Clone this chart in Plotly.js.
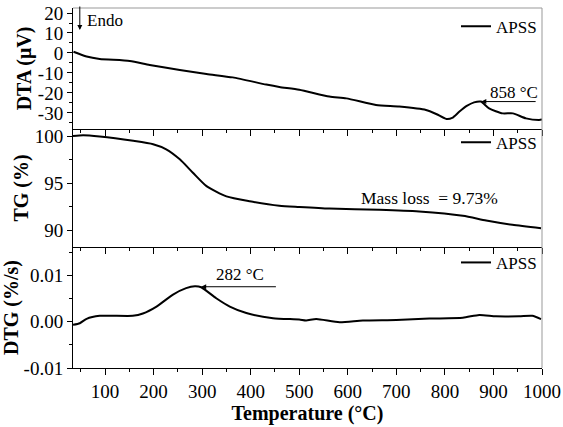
<!DOCTYPE html>
<html><head><meta charset="utf-8">
<script src="https://cdn.plot.ly/plotly-3.0.1.min.js"></script>
<style>body{margin:0;padding:0;background:#fff}#c{width:563px;height:427px}</style>
</head><body><div id="c"></div>
<script>
// DTA (µV) vs temperature
const dtaT = [35, 62, 89, 151, 192, 254, 309, 363, 432, 459, 500, 562, 597, 658, 706, 761, 782, 803, 815, 830, 845, 860, 874, 891, 919, 940, 967, 994, 1000];
const dtaV = [0.6, -1.8, -3, -4, -6, -8.5, -10.5, -12.2, -15.8, -17, -18.4, -21.8, -22.7, -26, -26.8, -28.5, -30.5, -33, -32.5, -29.3, -26.5, -24.7, -24.3, -27.7, -30.2, -30.2, -32.7, -33.5, -33.3];
// TG (%) vs temperature
const tgT = [34, 55, 89, 158, 199, 226, 254, 281, 309, 350, 398, 459, 500, 562, 665, 747, 837, 885, 939, 998];
const tgV = [100.06, 100.14, 100, 99.53, 99.17, 98.63, 97.56, 96.13, 94.7, 93.6, 93.08, 92.6, 92.47, 92.3, 92.18, 92.0, 91.54, 91.03, 90.57, 90.2];
// DTG (%/s) vs temperature
const dtgT = [34, 48, 62, 89, 157, 178, 206, 240, 267, 285, 298, 329, 357, 391, 446, 500, 514, 535, 583, 631, 700, 768, 837, 871, 905, 953, 980, 998];
const dtgV = [-0.00065, -0.0003, 0.00065, 0.0013, 0.0013, 0.0018, 0.0033, 0.0059, 0.0073, 0.0077, 0.0075, 0.0051, 0.0033, 0.0019, 0.0008, 0.0005, 0.0003, 0.0006, -0.0001, 0.0003, 0.0004, 0.0007, 0.0009, 0.0015, 0.0012, 0.0012, 0.0013, 0.0006];
const seriesName = "APSS";
const dtaTicks = [20, 10, 0, -10, -20, -30];
const dtaTickText = ["20", "10", "0", "-10", "-20", "-30"];
const tgTicks = [90, 95, 100];
const tgTickText = ["90", "95", "100"];
const dtgTicks = [-0.01, 0, 0.01];
const dtgTickText = ["-0.01", "0.00", "0.01"];

const F = "Liberation Serif";
const line = {color: "#000", width: 2, shape: "spline", smoothing: 0.6};
const traces = [
  {x: dtaT, y: dtaV, xaxis: "x", yaxis: "y", mode: "lines", line: line, name: seriesName, legend: "legend"},
  {x: tgT, y: tgV, xaxis: "x2", yaxis: "y2", mode: "lines", line: line, name: seriesName, legend: "legend2"},
  {x: dtgT, y: dtgV, xaxis: "x3", yaxis: "y3", mode: "lines", line: line, name: seriesName, legend: "legend3"}
];
const xr = [34, 1000];
function xax(anchor, labels) {
  return {anchor: anchor, range: xr, tick0: 0, dtick: 100, ticks: "outside", ticklen: 6, tickcolor: "#000",
    showline: true, linecolor: "#000", linewidth: 1, showgrid: false, zeroline: false, showticklabels: labels,
    tickfont: {family: F, size: 19, color: "#000"},
    minor: {dtick: 50, tick0: 0, ticks: "outside", ticklen: 3, tickcolor: "#000"}};
}
function yax(domain, range, tv, tt, minorD, title) {
  return {domain: domain, range: range, tickvals: tv, ticktext: tt, ticks: "outside", ticklen: 5, tickcolor: "#000",
    showline: true, linecolor: "#000", linewidth: 1, showgrid: false, zeroline: false,
    tickfont: {family: F, size: 19, color: "#000"},
    minor: {dtick: minorD, ticks: "outside", ticklen: 3, tickcolor: "#000"},
    title: {text: title, font: {family: F, size: 20, color: "#000", weight: "bold"}, standoff: 0}};
}
const legendBase = {x: 1, xanchor: "right", yanchor: "top", bgcolor: "rgba(0,0,0,0)", borderwidth: 0,
  font: {family: F, size: 17, color: "#000"}, itemwidth: 30, tracegroupgap: 0};
const layout = {
  width: 563, height: 427, margin: {l: 73, r: 21, t: 8, b: 59},
  paper_bgcolor: "#fff", plot_bgcolor: "#fff", showlegend: true,
  font: {family: F, color: "#000"},
  xaxis: xax("y", false),
  xaxis2: Object.assign(xax("y2", false), {matches: "x3"}),
  xaxis3: Object.assign(xax("y3", true), {title: {text: "Temperature (°C)", font: {family: F, size: 20, color: "#000", weight: "bold"}, standoff: 3}}),
  yaxis: yax([0.664, 1], [-38, 22.5], dtaTicks, dtaTickText, 5, "DTA (μV)"),
  yaxis2: yax([0.336, 0.664], [88.2, 100.8], tgTicks, tgTickText, 2.5, "TG (%)"),
  yaxis3: yax([0, 0.336], [-0.01, 0.0162], dtgTicks, dtgTickText, 0.005, "DTG (%/s)"),
  legend: Object.assign({}, legendBase, {y: 0.998}),
  legend2: Object.assign({}, legendBase, {y: 0.676}),
  legend3: Object.assign({}, legendBase, {y: 0.342}),
  shapes: [
    {type: "line", xref: "paper", yref: "paper", x0: 0, x1: 1, y0: 1, y1: 1, line: {color: "#999", width: 1}},
    {type: "line", xref: "paper", yref: "paper", x0: 1, x1: 1, y0: 0, y1: 1, line: {color: "#999", width: 1}}
  ],
  annotations: [
    {xref: "x", yref: "y", x: 48, y: 11.5, ax: 48, ay: 24, axref: "x", ayref: "y", text: "", showarrow: true, arrowhead: 2, arrowsize: 1, arrowwidth: 1, arrowcolor: "#000"},
    {xref: "x", yref: "y", x: 59, y: 16.5, text: "Endo", showarrow: false, xanchor: "left", font: {family: F, size: 17, color: "#000"}},
    {xref: "x", yref: "y", x: 875, y: -24.3, ax: 990, ay: -24.3, axref: "x", ayref: "y", text: "", showarrow: true, arrowhead: 2, arrowsize: 1, arrowwidth: 1, arrowcolor: "#000"},
    {xref: "x", yref: "y", x: 943, y: -20, text: "858 °C", showarrow: false, font: {family: F, size: 17, color: "#000"}},
    {xref: "x2", yref: "y2", x: 768, y: 93.45, text: "Mass loss  = 9.73%", showarrow: false, font: {family: F, size: 17.5, color: "#000"}},
    {xref: "x3", yref: "y3", x: 298, y: 0.0076, ax: 455, ay: 0.0076, axref: "x3", ayref: "y3", text: "", showarrow: true, arrowhead: 2, arrowsize: 1, arrowwidth: 1, arrowcolor: "#000"},
    {xref: "x3", yref: "y3", x: 378, y: 0.0102, text: "282 °C", showarrow: false, font: {family: F, size: 17, color: "#000"}}
  ]
};
Plotly.newPlot("c", traces, layout, {displayModeBar: false, staticPlot: true});
</script></body></html>
